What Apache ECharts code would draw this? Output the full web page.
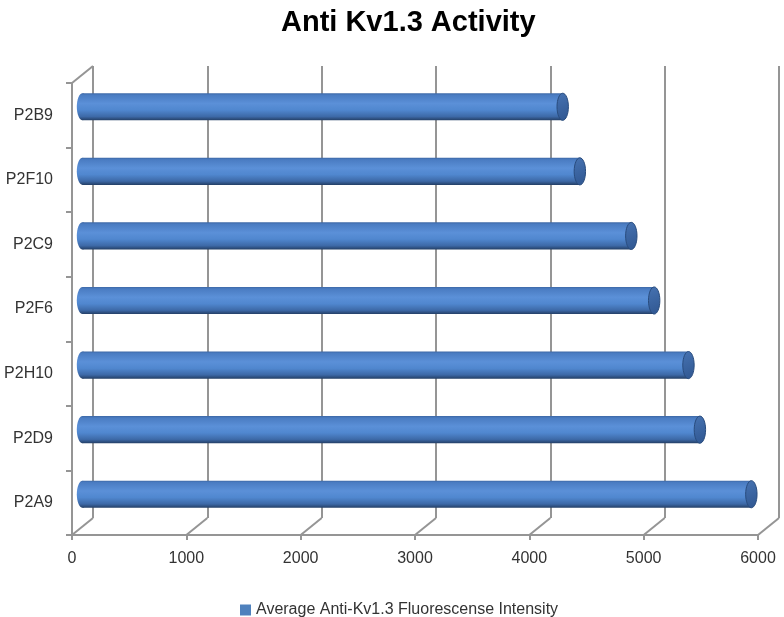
<!DOCTYPE html>
<html>
<head>
<meta charset="utf-8">
<script src="https://cdn.jsdelivr.net/npm/echarts@6/dist/echarts.min.js"></script>
<style>html,body{margin:0;padding:0;background:#fff}#c{width:784px;height:617px}</style>
</head>
<body>
<div id="c"></div>
<script>
// ---- data ----
const categories = ['P2B9', 'P2F10', 'P2C9', 'P2F6', 'P2H10', 'P2D9', 'P2A9'];
const values = [4200, 4350, 4800, 5000, 5300, 5400, 5850];
const xTicks = [0, 1000, 2000, 3000, 4000, 5000, 6000];
const seriesName = 'Average Anti-Kv1.3 Fluorescense Intensity';
const titleText = 'Anti Kv1.3 Activity';

// ---- layout / style ----
const FRONT = { left: 72, top: 83, width: 686, height: 452 };
const DEPTH = [21, -17];
const MID = { left: FRONT.left + DEPTH[0] / 2, top: FRONT.top + DEPTH[1] / 2, width: FRONT.width, height: FRONT.height };
const BACK = { left: FRONT.left + DEPTH[0], top: FRONT.top + DEPTH[1], width: FRONT.width, height: FRONT.height };
const WALL = { color: '#959595', width: 2 };
const FONT = 'Liberation Sans, Arial, sans-serif';

const chart = echarts.init(document.getElementById('c'), null, { renderer: 'canvas' });

function valueAxis(gridIndex, extra) {
  return Object.assign({
    type: 'value', gridIndex, min: 0, max: 6000, interval: 1000,
    axisLine: { show: false }, axisTick: { show: false }, axisLabel: { show: false }, splitLine: { show: false }
  }, extra || {});
}
function catAxis(gridIndex, extra) {
  return Object.assign({
    type: 'category', gridIndex, data: categories, inverse: true,
    axisLine: { show: false }, axisTick: { show: false }, axisLabel: { show: false }, splitLine: { show: false }
  }, extra || {});
}

function diagonal(params, api) {
  const p = api.coord([api.value(0), api.value(1)]);
  return {
    type: 'line',
    shape: { x1: p[0], y1: p[1], x2: p[0] + DEPTH[0], y2: p[1] + DEPTH[1] },
    style: { stroke: WALL.color, lineWidth: WALL.width }
  };
}

const bodyGrad = new echarts.graphic.LinearGradient(0, 0, 0, 1, [
  { offset: 0, color: '#3d68a6' },
  { offset: 0.07, color: '#4a7cc2' },
  { offset: 0.38, color: '#5b90d8' },
  { offset: 0.62, color: '#5087cf' },
  { offset: 0.86, color: '#3d69a7' },
  { offset: 1, color: '#243f66' }
]);
const capGrad = new echarts.graphic.LinearGradient(0, 0, 1, 1, [
  { offset: 0, color: '#4773b2' },
  { offset: 1, color: '#2f5690' }
]);

function cylinder(params, api) {
  const cat = api.value(1);
  const val = api.value(0);
  const s = api.coord([0, cat]);
  const e = api.coord([val, cat]);
  const band = api.size([0, 1])[1];
  const h = band * 0.42;
  const rx = h * 0.21;
  const cy = s[1];
  return {
    type: 'group',
    children: [
      { type: 'ellipse', shape: { cx: s[0], cy, rx, ry: h / 2 }, style: { fill: bodyGrad } },
      { type: 'rect', shape: { x: s[0], y: cy - h / 2, width: e[0] - s[0], height: h }, style: { fill: bodyGrad } },
      { type: 'ellipse', shape: { cx: e[0], cy, rx, ry: h / 2 }, style: { fill: capGrad, stroke: '#294c7e', lineWidth: 1 } }
    ]
  };
}

chart.setOption({
  animation: false,
  backgroundColor: '#fff',
  title: {
    text: titleText, left: 276, top: 3,
    textStyle: { fontFamily: FONT, fontSize: 29, fontWeight: 'bold', color: '#000' }
  },
  legend: {
    data: [seriesName], left: 235, top: 597,
    icon: 'rect', itemWidth: 11, itemHeight: 11, itemGap: 5,
    textStyle: { fontFamily: FONT, fontSize: 16, color: '#333' }
  },
  grid: [
    Object.assign({}, BACK),
    Object.assign({}, FRONT),
    Object.assign({}, MID)
  ],
  xAxis: [
    valueAxis(0, { splitLine: { show: true, lineStyle: { color: WALL.color, width: WALL.width } } }),
    valueAxis(1, {
      axisLine: { show: true, lineStyle: { color: WALL.color, width: WALL.width } },
      axisTick: { show: true, length: 5, lineStyle: { color: WALL.color, width: WALL.width } },
      axisLabel: { show: true, margin: 16, fontFamily: FONT, fontSize: 16, color: '#333', formatter: v => String(v) }
    }),
    valueAxis(2)
  ],
  yAxis: [
    catAxis(0),
    catAxis(1, {
      axisLine: { show: true, lineStyle: { color: WALL.color, width: WALL.width } },
      axisTick: { show: true, length: 6, lineStyle: { color: WALL.color, width: WALL.width } },
      axisLabel: { show: true, margin: 19, fontFamily: FONT, fontSize: 16, color: '#333' }
    }),
    catAxis(2),
    { type: 'value', gridIndex: 1, min: 0, max: 1, show: false }
  ],
  series: [
    {
      type: 'custom', name: 'floor', xAxisIndex: 1, yAxisIndex: 3, silent: true, z: 1,
      data: xTicks.map(v => [v, 0]), renderItem: diagonal
    },
    {
      type: 'custom', name: 'corner', xAxisIndex: 1, yAxisIndex: 3, silent: true, z: 1,
      data: [[0, 1]], renderItem: diagonal
    },
    {
      type: 'custom', name: seriesName, xAxisIndex: 2, yAxisIndex: 2, z: 3,
      itemStyle: { color: '#4f81bd' },
      encode: { x: 0, y: 1 },
      data: values.map((v, i) => [v, i]),
      renderItem: cylinder
    }
  ]
});
</script>
</body>
</html>
